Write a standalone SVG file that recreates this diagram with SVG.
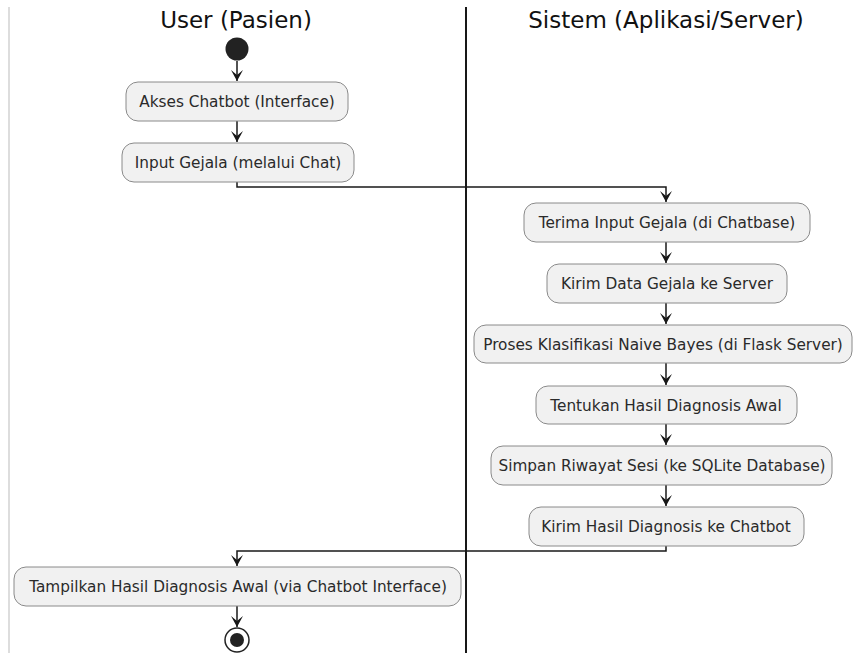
<svg xmlns="http://www.w3.org/2000/svg" width="853" height="653" viewBox="0 0 853 653">
<defs>
<marker id="ah" viewBox="0 0 12 12" refX="11" refY="6" markerWidth="12" markerHeight="12" markerUnits="userSpaceOnUse" orient="auto">
<path d="M0,0 L11,6 L0,12 L5,6 Z" fill="#181818"/>
</marker>
<style>
.act rect{fill:#f1f1f1;stroke:#8a8a8a;stroke-width:1}
.act text{font-family:"DejaVu Sans",sans-serif;font-size:15.3px;fill:#2a2a2a;text-anchor:middle}
.title{font-family:"DejaVu Sans",sans-serif;font-size:23px;fill:#111;text-anchor:middle}
.con{fill:none;stroke:#181818;stroke-width:1.5}
</style>
</defs>
<rect width="853" height="653" fill="#fff"/>
<g id="lanes">
<line x1="9" y1="7" x2="9" y2="653" stroke="#bbb" stroke-width="1"/>
<line x1="466" y1="7" x2="466" y2="653" stroke="#181818" stroke-width="2"/>
<text class="title" x="236" y="28">User (Pasien)</text>
<text class="title" x="666" y="28">Sistem (Aplikasi/Server)</text>
</g>
<g id="connectors">
<path class="con" d="M237,61 V81" marker-end="url(#ah)"/>
<path class="con" d="M237,121 V142" marker-end="url(#ah)"/>
<path class="con" d="M237,182 V187 H666 V202" marker-end="url(#ah)"/>
<path class="con" d="M666,242 V263" marker-end="url(#ah)"/>
<path class="con" d="M666,303 V324" marker-end="url(#ah)"/>
<path class="con" d="M666,363 V385" marker-end="url(#ah)"/>
<path class="con" d="M666,424 V445" marker-end="url(#ah)"/>
<path class="con" d="M666,485 V506" marker-end="url(#ah)"/>
<path class="con" d="M666,546 V551 H237 V566" marker-end="url(#ah)"/>
<path class="con" d="M237,606 V627" marker-end="url(#ah)"/>
</g>
<g id="start"><circle cx="237" cy="49" r="11.5" fill="#222"/></g>
<g id="n1" class="act"><rect x="126" y="82" width="222" height="39" rx="12"/><text x="237" y="107">Akses Chatbot (Interface)</text></g>
<g id="n2" class="act"><rect x="122" y="143" width="232" height="39" rx="12"/><text x="238" y="168">Input Gejala (melalui Chat)</text></g>
<g id="n3" class="act"><rect x="524" y="203" width="286" height="39" rx="12"/><text x="667" y="228">Terima Input Gejala (di Chatbase)</text></g>
<g id="n4" class="act"><rect x="547" y="264" width="240" height="39" rx="12"/><text x="667" y="289">Kirim Data Gejala ke Server</text></g>
<g id="n5" class="act"><rect x="474" y="325" width="378" height="38" rx="12"/><text x="663" y="350">Proses Klasifikasi Naive Bayes (di Flask Server)</text></g>
<g id="n6" class="act"><rect x="536" y="386" width="261" height="38" rx="12"/><text x="666" y="411">Tentukan Hasil Diagnosis Awal</text></g>
<g id="n7" class="act"><rect x="491" y="446" width="341" height="39" rx="12"/><text x="662" y="471">Simpan Riwayat Sesi (ke SQLite Database)</text></g>
<g id="n8" class="act"><rect x="529" y="507" width="275" height="39" rx="12"/><text x="666" y="532">Kirim Hasil Diagnosis ke Chatbot</text></g>
<g id="n9" class="act"><rect x="14" y="567" width="447" height="39" rx="12"/><text x="238" y="592">Tampilkan Hasil Diagnosis Awal (via Chatbot Interface)</text></g>
<g id="end"><circle cx="237" cy="640" r="12" fill="#fff" stroke="#222" stroke-width="1.5"/><circle cx="237" cy="640" r="7" fill="#222"/></g>
</svg>
